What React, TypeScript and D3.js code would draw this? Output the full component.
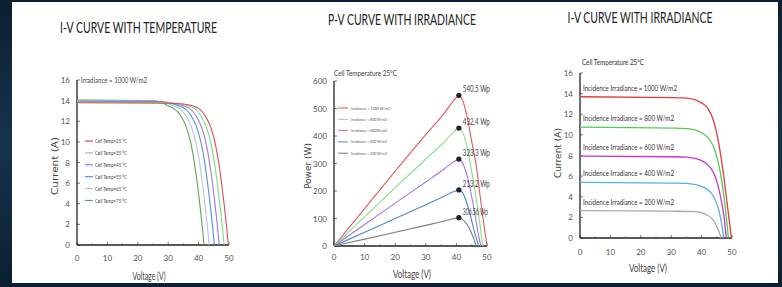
import { FC } from 'react';
import * as d3 from 'd3';

// ---- data ----
type Pt = [number, number]; // [voltage, value]

const tempLabels = ['Cell Temp=25 °C', 'Cell Temp=35 °C', 'Cell Temp=45 °C', 'Cell Temp=55 °C', 'Cell Temp=65 °C', 'Cell Temp=75 °C'];
const tempColors = ['#e04a50', '#79dc82', '#a074e4', '#4f93d6', '#b4c4e6', '#5aa84c'];
const ivTemp25: Pt[] = [[0, 13.8], [30, 13.75], [35, 13.68], [38, 13.5], [40, 13.25], [42, 12.6], [44, 11.4], [45.5, 9.8], [47, 7.2], [48.3, 4.2], [49.2, 1.8], [49.8, 0]];
const ivTemp35: Pt[] = [[0, 13.85], [29, 13.8], [34, 13.68], [36.6, 13.5], [38.6, 13.25], [40.6, 12.6], [42.6, 11.4], [44.1, 9.8], [45.6, 7.2], [46.9, 4.2], [47.8, 1.8], [48.4, 0]];
const ivTemp45: Pt[] = [[0, 13.9], [28, 13.85], [32, 13.72], [35, 13.5], [37, 13.25], [39, 12.6], [41, 11.4], [42.5, 9.8], [44, 7.2], [45.3, 4.2], [46.2, 1.8], [46.8, 0]];
const ivTemp55: Pt[] = [[0, 13.95], [27, 13.9], [31, 13.72], [33.4, 13.5], [35.4, 13.25], [37.4, 12.6], [39.4, 11.4], [40.9, 9.8], [42.4, 7.2], [43.7, 4.2], [44.6, 1.8], [45.2, 0]];
const ivTemp65: Pt[] = [[0, 14.0], [26, 13.95], [29, 13.78], [31.7, 13.5], [33.7, 13.25], [35.7, 12.6], [37.7, 11.4], [39.2, 9.8], [40.7, 7.2], [42, 4.2], [42.9, 1.8], [43.5, 0]];
const ivTemp75: Pt[] = [[0, 14.05], [25, 14.0], [28, 13.8], [30, 13.5], [32, 13.2], [34, 12.6], [36, 11.4], [37.5, 9.8], [39, 7.2], [40.3, 4.2], [41.2, 1.8], [41.8, 0]];
const ivTempSeries = [ivTemp25, ivTemp35, ivTemp45, ivTemp55, ivTemp65, ivTemp75];

const pvLabels = ['Irradiance = 1000 W/m2', 'Irradiance = 800 W/m2', 'Irradiance =600W/m2', 'Irradiance = 400 W/m2', 'Irradiance = 200 W/m2'];
const pvColors = ['#e05a5a', '#80e080', '#a474ea', '#4a8ac8', '#7a7a7a'];
const pv1000: Pt[] = [[0, 0], [10, 136], [20, 272], [30, 405], [36, 482], [39, 527], [40.8, 545], [42, 530], [43.5, 470], [45, 380], [46.7, 276], [48, 160], [49.2, 60], [50, 0]];
const pv800: Pt[] = [[0, 0], [10, 106], [20, 212], [30, 316], [36, 378], [39, 413], [40.8, 430], [42, 415], [43.5, 360], [45, 270], [46.5, 170], [47.8, 70], [48.6, 0]];
const pv600: Pt[] = [[0, 0], [10, 78], [20, 156], [30, 233], [36, 280], [39, 305], [40.8, 316], [42, 302], [43.5, 255], [45, 180], [46.3, 100], [47.3, 35], [48, 0]];
const pv400: Pt[] = [[0, 0], [10, 50], [20, 100], [30, 150], [36, 181], [39, 197], [40.8, 204], [42, 194], [43.3, 160], [44.6, 110], [45.8, 55], [47.3, 0]];
const pv200: Pt[] = [[0, 0], [10, 25], [20, 50], [30, 75], [36, 91], [39, 99], [40.8, 103], [42, 97], [43.5, 78], [44.8, 50], [45.8, 22], [46.4, 0]];
const pvSeries = [pv1000, pv800, pv600, pv400, pv200];
const pvPeakV = [40.8, 40.8, 40.8, 40.8, 40.8];
const pvPeakP = [548, 429, 316, 204, 103];
const pvPeakLabels = ['540.5 Wp', '432.4 Wp', '323.3 Wp', '213.2 Wp', '306.56 Wp'];

const irrLabels = ['Incidence Irradiance = 1000 W/m2', 'Incidence Irradiance = 800 W/m2', 'Incidence Irradiance = 600 W/m2', 'Incidence Irradiance = 400 W/m2', 'Incidence Irradiance = 200 W/m2'];
const irrColors = ['#e23c3c', '#4fcc55', '#c835c8', '#5aaee2', '#aaaaaa'];
const iv1000: Pt[] = [[0, 13.7], [30, 13.62], [35, 13.57], [38, 13.4], [40, 13.1], [42, 12.6], [44, 11.3], [45.5, 9.4], [47, 6.6], [48.3, 3.6], [49.3, 1.2], [49.8, 0]];
const iv800: Pt[] = [[0, 10.75], [30, 10.65], [35, 10.6], [38, 10.45], [40, 10.2], [42, 9.75], [44, 8.8], [45.5, 7.3], [46.8, 5.2], [47.8, 2.9], [48.5, 1], [48.8, 0]];
const iv600: Pt[] = [[0, 7.95], [30, 7.88], [35, 7.84], [38, 7.7], [40, 7.5], [42, 7.1], [44, 6.3], [45.3, 5.2], [46.5, 3.6], [47.4, 2], [47.9, 0.6], [48.1, 0]];
const iv400: Pt[] = [[0, 5.4], [30, 5.33], [35, 5.3], [38, 5.18], [40, 5.0], [42, 4.68], [43.8, 4.1], [45, 3.3], [46, 2.3], [46.7, 1.2], [47.1, 0.3], [47.2, 0]];
const iv200: Pt[] = [[0, 2.65], [30, 2.6], [38, 2.56], [40, 2.47], [42, 2.2], [43.5, 1.85], [44.7, 1.3], [45.6, 0.7], [46.2, 0.2], [46.4, 0]];
const ivIrrSeries = [iv1000, iv800, iv600, iv400, iv200];

const currentTicks = [0, 2, 4, 6, 8, 10, 12, 14, 16];
const powerTicks = [0, 100, 200, 300, 400, 500, 600];
const voltTicks = [0, 10, 20, 30, 40, 50];
const voltMinor = [5, 15, 25, 35, 45];

const narrow = "Lato, 'DejaVu Sans Condensed', sans-serif";
const wide = "'DejaVu Sans', Verdana, sans-serif";

interface TProps {
  x: number;
  y: number;
  size: number;
  len?: number;
  anchor?: 'start' | 'middle' | 'end';
  fill?: string;
  family?: string;
  children: string | number;
}

// text squeezed to the width measured on the reference
const T: FC<TProps> = ({ x, y, size, len, anchor = 'start', fill = '#444', family = narrow, children }) => (
  <text x={x} y={y} fontSize={size} fontFamily={family} fill={fill} textAnchor={anchor}
    textLength={len} lengthAdjust={len ? 'spacingAndGlyphs' : undefined}>{children}</text>
);

interface AxesProps {
  x: d3.ScaleLinear<number, number>;
  y: d3.ScaleLinear<number, number>;
  yTicks: number[];
  tickY: number;
  ytitle: string;
  ytitleX: number;
  ytitleY: number;
  ytitleLen: number;
  xtitleX: number;
  xtitleY: number;
  xtitleLen: number;
}

const Axes: FC<AxesProps> = ({ x, y, yTicks, tickY, ytitle, ytitleX, ytitleY, ytitleLen, xtitleX, xtitleY, xtitleLen }) => {
  const [x0, x1] = x.range();
  const [y0, y1] = y.range();
  return (
    <g>
      {yTicks.map(t => (
        <g key={'y' + t}>
          <line x1={x0} x2={x0 + 3} y1={y(t)} y2={y(t)} stroke="#555" strokeWidth={0.8} />
          <T x={x0 - 7} y={y(t) + 3} size={8} anchor="end" fill="#555">{t}</T>
        </g>
      ))}
      {voltTicks.map(t => (
        <g key={'x' + t}>
          <line x1={x(t)} x2={x(t)} y1={y0} y2={y0 - 3} stroke="#555" strokeWidth={0.8} />
          <T x={x(t)} y={tickY} size={8} anchor="middle" fill="#555">{t}</T>
        </g>
      ))}
      {voltMinor.map(t => (
        <line key={'m' + t} x1={x(t)} x2={x(t)} y1={y0} y2={y0 - 2} stroke="#777" strokeWidth={0.6} />
      ))}
      <line x1={x0} x2={x0} y1={y0} y2={y1} stroke="#222" strokeWidth={1.3} />
      <line x1={x0} x2={x1} y1={y0} y2={y0} stroke="#222" strokeWidth={1.3} />
      <T x={xtitleX} y={xtitleY} size={10.5} anchor="middle" len={xtitleLen}>Voltage (V)</T>
      <text transform={`translate(${ytitleX},${ytitleY}) rotate(-90)`} textAnchor="middle" fontSize={9} fontFamily={wide}
        fill="#444" textLength={ytitleLen} lengthAdjust="spacingAndGlyphs">{ytitle}</text>
    </g>
  );
};

const App: FC = () => {
  // panel 1: I-V with temperature
  const x1 = d3.scaleLinear().domain([0, 50]).range([77, 229]);
  const y1 = d3.scaleLinear().domain([0, 16]).range([245, 80]);
  const line1 = d3.line<Pt>().x(d => x1(d[0])).y(d => y1(d[1])).curve(d3.curveMonotoneX);

  // panel 2: P-V with irradiance
  const x2 = d3.scaleLinear().domain([0, 50]).range([334, 487]);
  const y2 = d3.scaleLinear().domain([0, 600]).range([246, 81]);
  const line2 = d3.line<Pt>().x(d => x2(d[0])).y(d => y2(d[1])).curve(d3.curveMonotoneX);

  // panel 3: I-V with irradiance
  const x3 = d3.scaleLinear().domain([0, 50]).range([580, 732]);
  const y3 = d3.scaleLinear().domain([0, 16]).range([238, 73]);
  const line3 = d3.line<Pt>().x(d => x3(d[0])).y(d => y3(d[1])).curve(d3.curveMonotoneX);

  return (
    <div style={{ position: 'absolute', left: 0, top: 0 }}>
      <svg width={782} height={287} style={{ display: 'block' }}>
        <defs>
          <linearGradient id="frame" x1="0" y1="0" x2="0" y2="1">
            <stop offset="0%" stopColor="#0c1f33" />
            <stop offset="50%" stopColor="#15344c" />
            <stop offset="100%" stopColor="#0c1f33" />
          </linearGradient>
        </defs>
        <rect x={0} y={0} width={782} height={287} fill="url(#frame)" />
        <rect x={12} y={2} width={766} height={281} fill="#ffffff" />

        {/* panel 1 */}
        <T x={138.5} y={33} size={15} anchor="middle" fill="#222" len={157}>I-V CURVE WITH TEMPERATURE</T>
        <Axes x={x1} y={y1} yTicks={currentTicks} tickY={261} ytitle="Current (A)" ytitleX={58} ytitleY={166} ytitleLen={58}
          xtitleX={149} xtitleY={280} xtitleLen={33} />
        <T x={81} y={83} size={7.5} len={66}>Irradiance = 1000 W/m2</T>
        {ivTempSeries.slice().reverse().map((s, i) => (
          <path key={i} d={line1(s) || ''} fill="none" stroke={tempColors[ivTempSeries.length - 1 - i]} strokeWidth={1.1} />
        ))}
        {tempLabels.map((l, i) => (
          <g key={l} transform={`translate(85,${141 + i * 11.9})`}>
            <line x1={0} x2={8} y1={0} y2={0} stroke={tempColors[i]} strokeWidth={1.2} />
            <T x={10} y={2} size={6} len={32}>{l}</T>
          </g>
        ))}

        {/* panel 2 */}
        <T x={402} y={25} size={15} anchor="middle" fill="#222" len={148}>P-V CURVE WITH IRRADIANCE</T>
        <Axes x={x2} y={y2} yTicks={powerTicks} tickY={260} ytitle="Power   (W)" ytitleX={311} ytitleY={166} ytitleLen={46}
          xtitleX={412} xtitleY={278} xtitleLen={38} />
        <T x={334} y={76} size={8} len={63}>Cell Temperature 25°C</T>
        {pvSeries.map((s, i) => (
          <path key={i} d={line2(s) || ''} fill="none" stroke={pvColors[i]} strokeWidth={1.1} />
        ))}
        {pvPeakV.map((v, i) => (
          <g key={'pk' + i}>
            <circle cx={x2(v)} cy={y2(pvPeakP[i])} r={2.6} fill="#222" />
            <T x={x2(v) + 4} y={y2(pvPeakP[i]) - 3} size={8.5} len={i === 4 ? 25 : 27}>{pvPeakLabels[i]}</T>
          </g>
        ))}
        {pvLabels.map((l, i) => (
          <g key={l} transform={`translate(338,${108 + i * 11.3})`}>
            <line x1={0} x2={10} y1={0} y2={0} stroke={pvColors[i]} strokeWidth={1} />
            <T x={13} y={1.5} size={4.5} fill="#555" len={i === 0 ? 39 : 36}>{l}</T>
          </g>
        ))}

        {/* panel 3 */}
        <T x={640} y={23} size={15} anchor="middle" fill="#222" len={145}>I-V CURVE WITH IRRADIANCE</T>
        <Axes x={x3} y={y3} yTicks={currentTicks} tickY={255} ytitle="Current (A)" ytitleX={561} ytitleY={153} ytitleLen={50}
          xtitleX={648} xtitleY={272} xtitleLen={38} />
        <T x={582} y={65} size={7.5} fill="#333" len={62}>Cell Temperature 25°C</T>
        {ivIrrSeries.map((s, i) => (
          <path key={i} d={line3(s) || ''} fill="none" stroke={irrColors[i]} strokeWidth={1.3} />
        ))}
        {irrLabels.map((l, i) => (
          <T key={l} x={583} y={y3(ivIrrSeries[i][0][1]) - 6} size={8} fill="#333" len={i === 0 ? 94 : 91}>{l}</T>
        ))}
      </svg>
    </div>
  );
};

export default App;
